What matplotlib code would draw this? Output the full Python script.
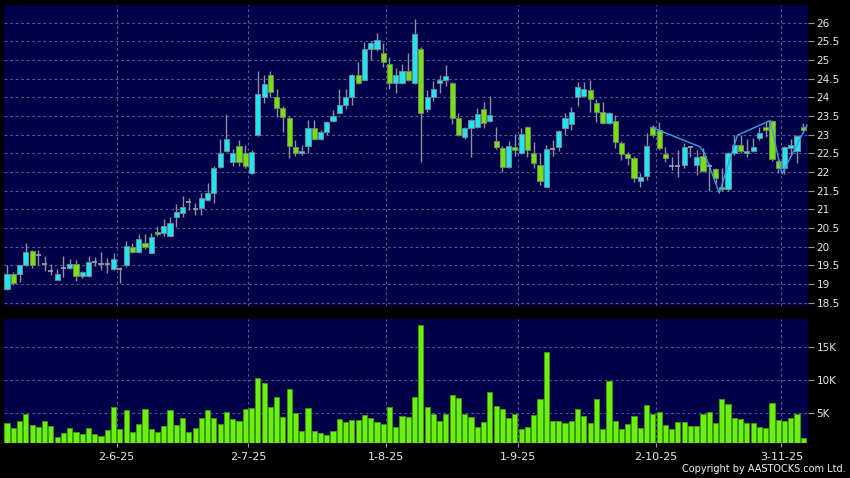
import matplotlib
matplotlib.use("Agg")
import matplotlib.pyplot as plt
import numpy as np

# daily OHLC (oldest first)
opens = [18.86, 19.27, 19.27, 19.50, 19.88, 19.77, 19.54, 19.35, 19.11, 19.44,
         19.42, 19.53, 19.21, 19.21, 19.58, 19.53, 19.53, 19.39, 19.41, 19.50,
         19.98, 19.85, 20.09, 19.84, 20.40, 20.37, 20.29, 20.79, 20.89, 21.19,
         21.00, 21.03, 21.25, 21.43, 22.13, 22.57, 22.28, 22.70, 22.50, 21.98,
         22.99, 24.00, 24.59, 24.02, 23.73, 23.44, 22.68, 22.50, 22.70, 23.19,
         22.88, 23.08, 23.38, 23.59, 23.79, 24.00, 24.59, 24.48, 25.29, 25.29,
         25.20, 24.89, 24.38, 24.38, 24.71, 24.38, 25.31, 23.68, 24.00, 24.38,
         24.48, 24.38, 23.44, 22.95, 23.17, 23.20, 23.68, 23.36, 22.82, 22.64,
         22.13, 22.68, 22.50, 23.20, 22.50, 22.19, 21.61, 22.62, 22.68, 23.19,
         23.29, 24.00, 24.04, 24.20, 23.86, 23.61, 23.32, 23.38, 22.79, 22.48,
         22.37, 21.77, 21.89, 23.20, 23.13, 22.48, 22.17, 22.17, 22.19, 22.66,
         22.19, 22.43, 22.17, 22.07, 21.61, 21.54, 22.50, 22.72, 22.50, 22.57,
         22.90, 23.20, 23.38, 22.30, 22.10, 22.64, 22.57, 23.22]
highs = [19.51, 19.33, 19.52, 20.11, 19.92, 19.91, 19.75, 19.53, 19.40, 19.75,
         19.66, 19.64, 19.35, 19.75, 19.73, 19.87, 19.69, 19.82, 19.45, 20.15,
         20.10, 20.33, 20.35, 20.36, 20.55, 20.73, 20.79, 21.14, 21.36, 21.30,
         21.18, 21.43, 21.70, 22.15, 22.88, 23.55, 22.61, 22.86, 22.73, 22.58,
         24.71, 24.60, 24.71, 24.24, 23.78, 23.50, 22.86, 22.72, 23.39, 23.39,
         23.12, 23.38, 23.66, 24.24, 24.24, 24.63, 24.96, 25.49, 25.50, 25.72,
         25.45, 25.09, 24.78, 24.91, 25.18, 26.09, 25.35, 24.20, 24.44, 24.60,
         24.87, 24.41, 23.59, 23.22, 23.43, 23.73, 23.88, 24.04, 23.21, 22.70,
         22.84, 23.02, 23.17, 23.24, 22.81, 22.50, 22.72, 22.86, 23.14, 23.59,
         23.75, 24.42, 24.42, 24.47, 23.95, 23.88, 23.62, 23.53, 22.83, 22.53,
         22.43, 21.97, 23.04, 23.26, 23.35, 22.68, 22.41, 22.59, 22.79, 22.67,
         22.60, 22.64, 22.23, 22.12, 22.10, 22.55, 22.99, 22.99, 22.88, 22.90,
         23.20, 23.35, 23.40, 22.35, 22.70, 22.88, 23.00, 23.31]
lows = [18.85, 18.96, 19.06, 19.48, 19.42, 19.50, 19.36, 19.23, 19.10, 19.20,
        19.40, 19.09, 19.15, 19.20, 19.48, 19.38, 19.30, 19.37, 19.02, 19.45,
        19.83, 19.82, 19.95, 19.82, 20.29, 20.30, 20.27, 20.53, 20.79, 20.98,
        20.85, 20.85, 21.22, 21.18, 22.10, 22.55, 22.16, 22.16, 22.10, 21.96,
        22.97, 23.84, 24.00, 23.48, 23.08, 22.39, 22.43, 22.47, 22.50, 22.85,
        22.85, 22.99, 23.35, 23.55, 23.70, 23.79, 24.35, 24.45, 25.00, 25.25,
        24.82, 24.24, 24.12, 24.35, 24.45, 24.35, 22.28, 23.62, 23.91, 24.12,
        24.30, 23.29, 22.96, 22.88, 22.41, 23.18, 23.17, 23.33, 22.63, 22.01,
        22.10, 22.43, 22.48, 22.41, 22.10, 21.65, 21.60, 22.43, 22.57, 22.99,
        23.13, 23.77, 24.00, 23.62, 23.35, 23.30, 23.28, 22.64, 22.32, 22.19,
        21.74, 21.61, 21.79, 22.95, 22.60, 22.28, 22.05, 21.87, 22.10, 22.41,
        21.92, 22.00, 21.50, 21.70, 21.48, 21.50, 22.47, 22.50, 22.41, 22.55,
        22.86, 22.95, 22.30, 21.97, 21.95, 22.43, 22.25, 23.05]
closes = [19.27, 19.02, 19.50, 19.86, 19.50, 19.77, 19.54, 19.35, 19.27, 19.44,
          19.53, 19.21, 19.32, 19.58, 19.58, 19.53, 19.53, 19.66, 19.41, 20.03,
          19.87, 20.20, 19.98, 20.25, 20.34, 20.55, 20.64, 20.94, 21.07, 21.19,
          21.00, 21.30, 21.43, 22.10, 22.50, 22.88, 22.50, 22.28, 22.16, 22.54,
          24.08, 24.36, 24.14, 23.73, 23.48, 22.70, 22.50, 22.57, 23.19, 22.88,
          23.08, 23.33, 23.50, 23.79, 24.00, 24.59, 24.38, 25.29, 25.47, 25.54,
          24.95, 24.38, 24.59, 24.71, 24.48, 25.70, 23.59, 24.00, 24.24, 24.47,
          24.57, 23.44, 22.99, 23.17, 23.39, 23.57, 23.32, 23.52, 22.66, 22.14,
          22.71, 22.59, 23.02, 22.59, 22.25, 21.77, 22.61, 22.62, 23.10, 23.44,
          23.62, 24.27, 24.22, 23.95, 23.62, 23.32, 23.59, 22.81, 22.48, 22.37,
          21.83, 21.86, 22.70, 22.99, 22.64, 22.37, 22.17, 22.17, 22.66, 22.66,
          22.41, 22.04, 22.17, 21.83, 21.54, 22.50, 22.72, 22.57, 22.57, 22.68,
          23.04, 23.13, 22.34, 22.10, 22.66, 22.72, 22.96, 23.13]

# volume in thousands of shares
volumes = [3.38, 2.68, 3.69, 4.80, 3.08, 2.88, 3.74, 2.98, 1.37, 1.87,
           2.63, 2.12, 1.72, 2.63, 1.77, 1.47, 2.38, 5.86, 2.58, 5.41,
           2.12, 3.28, 5.51, 2.58, 2.12, 2.93, 5.46, 3.08, 4.14, 2.07,
           2.68, 4.24, 5.41, 4.14, 3.28, 5.05, 4.04, 3.74, 5.61, 5.76,
           10.3, 9.50, 5.91, 7.43, 4.35, 8.59, 4.90, 2.27, 5.76, 2.17,
           1.97, 1.57, 2.27, 4.04, 3.54, 3.84, 3.89, 4.70, 4.14, 3.54,
           3.34, 5.81, 2.83, 4.50, 4.29, 7.33, 18.3, 5.91, 4.75, 3.79,
           4.85, 7.68, 7.27, 4.75, 4.35, 2.78, 3.64, 8.19, 6.07, 5.61,
           4.14, 4.75, 2.53, 2.83, 4.60, 7.02, 14.24, 3.79, 3.74, 3.38,
           3.74, 5.51, 4.50, 3.43, 7.02, 2.53, 9.75, 3.79, 2.53, 3.28,
           4.50, 2.68, 6.17, 4.80, 5.10, 3.13, 2.58, 3.59, 3.59, 2.93,
           2.93, 4.80, 5.10, 3.48, 7.02, 6.37, 4.24, 4.09, 3.38, 3.48,
           2.88, 2.73, 6.52, 3.89, 3.79, 4.19, 4.80, 1.16]

# month ticks (bar index) and their labels
date_ticks = [17.5, 38.5, 60.5, 81.5, 103.5, 123.5]
date_labels = ["2-6-25", "2-7-25", "1-8-25", "1-9-25", "2-10-25", "3-11-25"]

price_ticks = [18.5, 19, 19.5, 20, 20.5, 21, 21.5, 22, 22.5, 23, 23.5, 24, 24.5, 25, 25.5, 26]
vol_ticks = [5, 10, 15]
vol_labels = ["5K", "10K", "15K"]

# zigzag overlay vertices (bar index, price)
zz_x = [102.8, 110.5, 111.2, 113.6, 116.5, 121.7, 123.6, 127.6]
zz_y = [23.20, 22.68, 22.52, 21.44, 22.99, 23.38, 21.95, 23.26]

UP = "#20e4f2"
DOWN = "#78e010"
DOJI = "#9a9aa8"
PANEL = "#000048"
GRID = "#56568a"

o = np.array(opens)
h = np.array(highs)
l = np.array(lows)
c = np.array(closes)
x = np.arange(len(o))

fig = plt.figure(figsize=(8.5, 4.78), dpi=100, facecolor="black")
ax = fig.add_axes([0.0047, 0.3598, 0.9459, 0.6291], facecolor=PANEL)
axv = fig.add_axes([0.0047, 0.0726, 0.9459, 0.2594], facecolor=PANEL)

# wicks
ax.vlines(x, l, h, color="#8e8e9e", linewidth=1.0, zorder=2)

# bodies
up = c > o
down = c < o
flat = c == o
w = 0.82
ax.bar(x[up], (c - o)[up], bottom=o[up], width=w, color=UP,
       edgecolor="#6a8a94", linewidth=0.7, zorder=3)
ax.bar(x[down], (o - c)[down], bottom=c[down], width=w, color=DOWN,
       edgecolor="#6a8a60", linewidth=0.7, zorder=3)
ax.hlines(o[flat], x[flat] - w / 2, x[flat] + w / 2, color=DOJI, linewidth=1.3, zorder=3)

ax.plot(zz_x, zz_y, color="#3a9ee0", linewidth=1.0, zorder=4)

ax.set_xlim(-0.48, 127.75)
ax.set_ylim(18.41, 26.47)
ax.set_yticks(price_ticks)
ax.set_yticklabels([f"{t:g}" for t in price_ticks])
ax.set_xticks(date_ticks)
ax.set_xticklabels([])

# volume
axv.bar(x, volumes, width=w, color="#6cf012", edgecolor="#3c9a08", linewidth=0.7, zorder=3)
axv.set_xlim(-0.48, 127.75)
axv.set_ylim(0.36, 19.15)
axv.set_yticks(vol_ticks)
axv.set_yticklabels(vol_labels)
axv.set_xticks(date_ticks)
axv.set_xticklabels(date_labels)

for a in (ax, axv):
    for s in a.spines.values():
        s.set_visible(False)
    a.yaxis.tick_right()
    a.tick_params(axis="y", colors="#9a9a9a", labelcolor="#e8e8e8", length=4,
                  width=0.8, pad=2, labelsize=7.5, direction="out")
    a.tick_params(axis="x", colors="#9a9a9a", labelcolor="#e8e8e8", length=3,
                  width=0.8, pad=3, labelsize=8)
    a.grid(True, color=GRID, linestyle=(0, (2.5, 2.5)), linewidth=0.8, zorder=0)
    a.set_axisbelow(True)

ax.tick_params(axis="x", length=0)

fig.text(0.995, 0.008, "Copyright by AASTOCKS.com Ltd.", color="#f0f0f0",
         fontsize=7, ha="right", va="bottom")

fig.savefig("out.png", dpi=100, facecolor="black")
